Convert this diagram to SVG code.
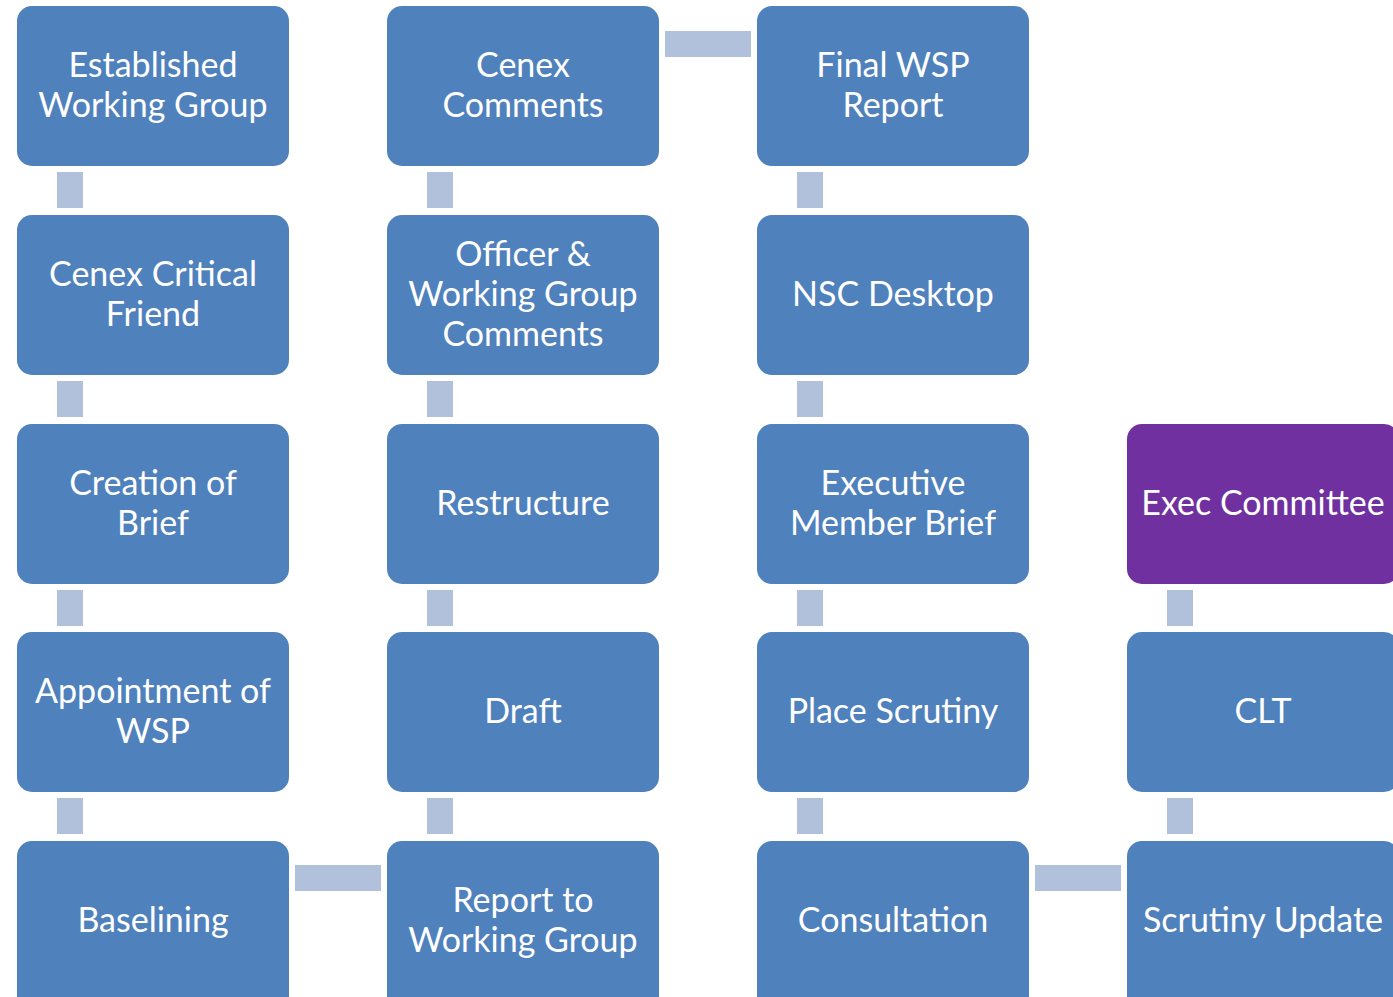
<svg xmlns="http://www.w3.org/2000/svg" width="1393" height="997" viewBox="0 0 1393 997">
<style>
.box{fill:#4F81BD}
.purple{fill:#7030A0}
.conn{fill:#B2C1DB}
text{font-family:Lato,"Open Sans","Liberation Sans",sans-serif;font-size:34px;fill:#ffffff;text-anchor:middle}
</style>
<rect width="1393" height="997" fill="#ffffff"/>
<g id="connectors">
<rect class="conn" x="57" y="172" width="26" height="36"/>
<rect class="conn" x="57" y="381" width="26" height="36"/>
<rect class="conn" x="57" y="590" width="26" height="36"/>
<rect class="conn" x="57" y="798" width="26" height="36"/>
<rect class="conn" x="295" y="865" width="86" height="26"/>
<rect class="conn" x="427" y="798" width="26" height="36"/>
<rect class="conn" x="427" y="590" width="26" height="36"/>
<rect class="conn" x="427" y="381" width="26" height="36"/>
<rect class="conn" x="427" y="172" width="26" height="36"/>
<rect class="conn" x="665" y="31" width="86" height="26"/>
<rect class="conn" x="797" y="172" width="26" height="36"/>
<rect class="conn" x="797" y="381" width="26" height="36"/>
<rect class="conn" x="797" y="590" width="26" height="36"/>
<rect class="conn" x="797" y="798" width="26" height="36"/>
<rect class="conn" x="1035" y="865" width="86" height="26"/>
<rect class="conn" x="1167" y="798" width="26" height="36"/>
<rect class="conn" x="1167" y="590" width="26" height="36"/>
</g>
<g id="n1"><rect class="box" x="17" y="6" width="272" height="160" rx="15"/><text x="153" y="77">Established</text><text x="153" y="117">Working Group</text></g>
<g id="n2"><rect class="box" x="17" y="215" width="272" height="160" rx="15"/><text x="153" y="286">Cenex Critical</text><text x="153" y="326">Friend</text></g>
<g id="n3"><rect class="box" x="17" y="424" width="272" height="160" rx="15"/><text x="153" y="495">Creation of</text><text x="153" y="535">Brief</text></g>
<g id="n4"><rect class="box" x="17" y="632" width="272" height="160" rx="15"/><text x="153" y="703">Appointment of</text><text x="153" y="743">WSP</text></g>
<g id="n5"><rect class="box" x="17" y="841" width="272" height="170" rx="15"/><text x="153" y="932">Baselining</text></g>
<g id="n6"><rect class="box" x="387" y="841" width="272" height="170" rx="15"/><text x="523" y="912">Report to</text><text x="523" y="952">Working Group</text></g>
<g id="n7"><rect class="box" x="387" y="632" width="272" height="160" rx="15"/><text x="523" y="723">Draft</text></g>
<g id="n8"><rect class="box" x="387" y="424" width="272" height="160" rx="15"/><text x="523" y="515">Restructure</text></g>
<g id="n9"><rect class="box" x="387" y="215" width="272" height="160" rx="15"/><text x="523" y="266">Officer &amp;</text><text x="523" y="306">Working Group</text><text x="523" y="346">Comments</text></g>
<g id="n10"><rect class="box" x="387" y="6" width="272" height="160" rx="15"/><text x="523" y="77">Cenex</text><text x="523" y="117">Comments</text></g>
<g id="n11"><rect class="box" x="757" y="6" width="272" height="160" rx="15"/><text x="893" y="77">Final WSP</text><text x="893" y="117">Report</text></g>
<g id="n12"><rect class="box" x="757" y="215" width="272" height="160" rx="15"/><text x="893" y="306">NSC Desktop</text></g>
<g id="n13"><rect class="box" x="757" y="424" width="272" height="160" rx="15"/><text x="893" y="495">Executive</text><text x="893" y="535">Member Brief</text></g>
<g id="n14"><rect class="box" x="757" y="632" width="272" height="160" rx="15"/><text x="893" y="723">Place Scrutiny</text></g>
<g id="n15"><rect class="box" x="757" y="841" width="272" height="170" rx="15"/><text x="893" y="932">Consultation</text></g>
<g id="n16"><rect class="box" x="1127" y="841" width="272" height="170" rx="15"/><text x="1263" y="932">Scrutiny Update</text></g>
<g id="n17"><rect class="box" x="1127" y="632" width="272" height="160" rx="15"/><text x="1263" y="723">CLT</text></g>
<g id="n18"><rect class="purple" x="1127" y="424" width="272" height="160" rx="15"/><text x="1263" y="515">Exec Committee</text></g>
</svg>
